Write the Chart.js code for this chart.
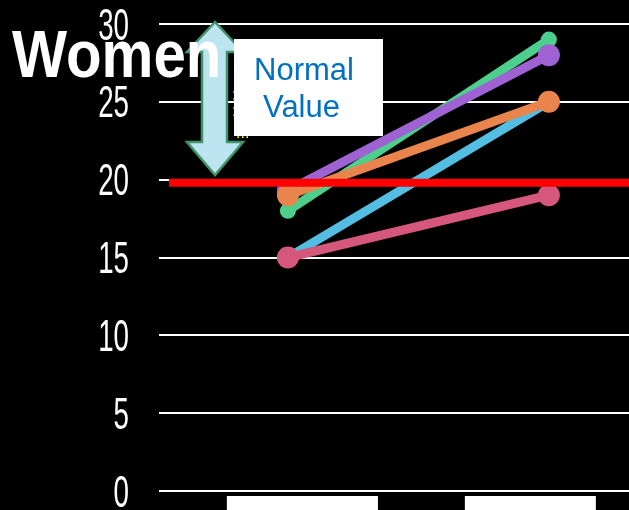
<!DOCTYPE html>
<html>
<head>
<meta charset="utf-8">
<script src="https://cdn.jsdelivr.net/npm/chart.js@4"></script>
<style>
  html, body { margin: 0; padding: 0; background: #000; }
  canvas { display: block; }
</style>
</head>
<body>
<canvas id="chart" width="629" height="510"></canvas>
<script>
// two time points (labels are cut off in the picture)
const categories = ['Before', 'After']
const green = [18, 29]
const purple = [19.3, 28]
const orange = [19, 25]
const blue = [15, 25]
const pink = [15, 19]
const normalValue = 19.8
const yTicks = [0, 5, 10, 15, 20, 25, 30]

const toPoints = (values) => categories.map((c, i) => ({ x: i, y: values[i] }))

const lineSet = (values, color, order, radius) => ({
  data: toPoints(values),
  borderColor: color,
  backgroundColor: color,
  borderWidth: 9,
  pointRadius: radius,
  pointBorderWidth: 0,
  order: order
})

// condensed tick labels drawn at the y scale positions
const tickLabels = {
  id: 'tickLabels',
  afterDraw(chart) {
    const ctx = chart.ctx
    const y = chart.scales.y
    ctx.save()
    ctx.fillStyle = '#fff'
    ctx.font = '44px "Liberation Sans", Arial, sans-serif'
    ctx.textAlign = 'right'
    ctx.textBaseline = 'alphabetic'
    for (let v of yTicks) {
      let py = y.getPixelForValue(v)
      ctx.save()
      ctx.translate(129, py + 15.5)
      ctx.scale(0.63, 1)
      ctx.fillText(String(v), 0, 0)
      ctx.restore()
    }
    ctx.restore()
  }
}

// slide decorations: arrow, title, label box, category boxes
const decorations = {
  id: 'decorations',
  afterDraw(chart) {
    const ctx = chart.ctx
    const x = chart.scales.x
    ctx.save()

    // category label boxes (cut off at the bottom)
    ctx.fillStyle = '#fff'
    const boxes = [[-0.234, 0.345], [0.678, 1.18]]
    for (let b of boxes) {
      let x0 = x.getPixelForValue(b[0])
      let x1 = x.getPixelForValue(b[1])
      ctx.fillRect(x0, 496, x1 - x0, 20)
    }

    // double arrow
    ctx.beginPath()
    ctx.moveTo(215, 22)
    ctx.lineTo(243, 52)
    ctx.lineTo(227, 52)
    ctx.lineTo(227, 142)
    ctx.lineTo(243, 142)
    ctx.lineTo(215, 175)
    ctx.lineTo(187, 142)
    ctx.lineTo(202, 142)
    ctx.lineTo(202, 52)
    ctx.lineTo(187, 52)
    ctx.closePath()
    ctx.fillStyle = '#bde4f1'
    ctx.fill()
    ctx.lineWidth = 2.5
    ctx.strokeStyle = '#43936a'
    ctx.stroke()

    // title, over the arrow
    ctx.save()
    ctx.fillStyle = '#fff'
    ctx.font = 'bold 67px "Liberation Sans", Arial, sans-serif'
    ctx.textAlign = 'left'
    ctx.textBaseline = 'alphabetic'
    ctx.translate(12, 77)
    ctx.scale(0.87, 1)
    ctx.fillText('Women', 0, 0)
    ctx.restore()

    // yellow text mostly hidden behind the box
    ctx.fillStyle = '#ffff00'
    ctx.font = '16px "Liberation Sans", Arial, sans-serif'
    ctx.fillText('::', 232, 100)
    ctx.fillText('::', 232, 116)
    ctx.fillText('...', 236, 138)

    // "Normal Value" box
    ctx.fillStyle = '#fff'
    ctx.fillRect(234, 39, 149, 97)
    ctx.fillStyle = '#0070c0'
    ctx.font = '31px "Liberation Sans", Arial, sans-serif'
    ctx.fillText('Normal', 254, 80)
    ctx.fillText('Value', 263, 117)

    ctx.restore()
  }
}

const ctx = document.getElementById('chart').getContext('2d')

const chart = new Chart(ctx, {
  type: 'line',
  data: {
    datasets: [
      {
        data: [{ x: -0.456, y: normalValue }, { x: 1.307, y: normalValue }],
        borderColor: '#ff0000',
        borderWidth: 8,
        pointRadius: 0,
        order: 0
      },
      lineSet(pink, '#d6577c', 1, 11),
      lineSet(orange, '#e8844c', 2, 11),
      lineSet(blue, '#53bde2', 3, 9),
      lineSet(purple, '#9f62d2', 4, 11),
      lineSet(green, '#4ccf8c', 5, 8)
    ]
  },
  options: {
    responsive: false,
    animation: false,
    devicePixelRatio: 1,
    layout: { autoPadding: false, padding: { left: 0, right: 0, top: 24, bottom: 19 } },
    plugins: {
      legend: { display: false },
      tooltip: { enabled: false }
    },
    scales: {
      x: {
        type: 'linear',
        min: -0.494,
        max: 1.307,
        display: false
      },
      y: {
        min: 0,
        max: 30,
        ticks: { stepSize: 5, display: false },
        grid: { color: '#ffffff', lineWidth: 2, drawTicks: false },
        border: { display: false },
        afterFit: (scale) => { scale.width = 159 }
      }
    }
  },
  plugins: [tickLabels, decorations]
})
</script>
</body>
</html>
